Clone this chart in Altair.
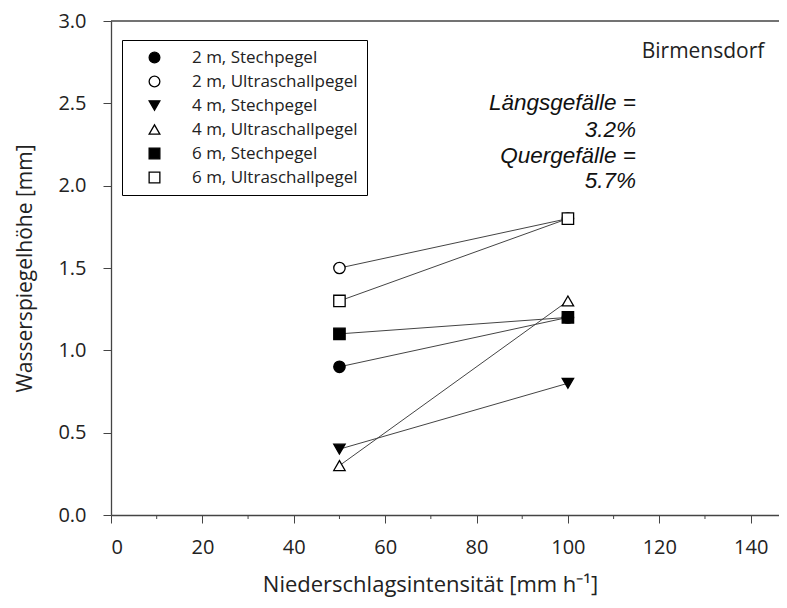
import altair as alt
import pandas as pd

# ---- data ----
series = ["2 m, Stechpegel", "2 m, Ultraschallpegel", "4 m, Stechpegel",
          "4 m, Ultraschallpegel", "6 m, Stechpegel", "6 m, Ultraschallpegel"]
x_vals = [50, 100]
y_2m_stech = [0.9, 1.2]
y_2m_ultra = [1.5, 1.8]
y_4m_stech = [0.4, 0.8]
y_4m_ultra = [0.3, 1.3]
y_6m_stech = [1.1, 1.2]
y_6m_ultra = [1.3, 1.8]
all_y = [y_2m_stech, y_2m_ultra, y_4m_stech, y_4m_ultra, y_6m_stech, y_6m_ultra]

shapes = ["circle", "circle", "triangle-down", "triangle-up", "square", "square"]
fills = ["black", "white", "black", "white", "black", "white"]
strokes = ["black"] * 6

x_major = [0, 20, 40, 60, 80, 100, 120, 140]
x_minor = [10, 30, 50, 70, 90, 110, 130]
y_ticks = [0.0, 0.5, 1.0, 1.5, 2.0, 2.5, 3.0]

site_label = "Birmensdorf"
slope_lines = ["Längsgefälle =", "3.2%", "Quergefälle =", "5.7%"]
slope_y = [2.50, 2.34, 2.18, 2.03]

rows = []
for s, ys in zip(series, all_y):
    for xv, yv in zip(x_vals, ys):
        rows.append({"serie": s, "x": xv, "y": yv})
df = pd.DataFrame(rows)

W, H = 668, 494
xscale = alt.Scale(domain=[0, 146.2], nice=False, zero=False)
yscale = alt.Scale(domain=[0, 3.0], nice=False)

FONT = "Open Sans"

xenc = alt.X("x:Q", scale=xscale, axis=alt.Axis(
    values=x_major, title="Niederschlagsintensität [mm h⁻¹]", grid=False,
    tickSize=8, labelPadding=14, labelFontSize=20, labelFont=FONT,
    labelColor="#222", domainColor="#444", tickColor="#444", domainWidth=1.3,
    titleFont=FONT, titleFontSize=22, titleFontWeight="normal", titleColor="#222",
    titleX=319, titleY=69, titleBaseline="middle", titleAlign="center"))
yenc = alt.Y("y:Q", scale=yscale, axis=alt.Axis(
    values=y_ticks, format=".1f", title="Wasserspiegelhöhe [mm]", grid=False,
    tickSize=8, labelPadding=17, labelFontSize=20, labelFont=FONT,
    labelColor="#222", domainColor="#444", tickColor="#444", domainWidth=1.3,
    titleFont=FONT, titleFontSize=21, titleFontWeight="normal", titleColor="#222",
    titleX=-86, titleY=H / 2, titleAngle=-90, titleBaseline="middle",
    titleAlign="center"))

base = alt.Chart(df)

lines = base.mark_line(color="#444", strokeWidth=1).encode(
    x=xenc, y=yenc, detail="serie:N")

points = base.mark_point(filled=True, size=130, strokeWidth=1.3,
                         opacity=1).encode(
    x=alt.X("x:Q", scale=xscale),
    y=alt.Y("y:Q", scale=yscale),
    shape=alt.Shape("serie:N", scale=alt.Scale(domain=series, range=shapes),
                    legend=alt.Legend(title=None)),
    fill=alt.Fill("serie:N", scale=alt.Scale(domain=series, range=fills),
                  legend=alt.Legend(title=None)),
    stroke=alt.Stroke("serie:N", scale=alt.Scale(domain=series, range=strokes),
                      legend=alt.Legend(title=None)),
)

minor = alt.Chart(pd.DataFrame({"x": x_minor})).mark_rule(
    color="#444", strokeWidth=1).encode(
    x=alt.X("x:Q", scale=xscale), y=alt.value(H), y2=alt.value(H + 4))

topline = alt.Chart(pd.DataFrame({"y": [3.0]})).mark_rule(
    color="#444", strokeWidth=1.3).encode(
    y=alt.Y("y:Q", scale=yscale), x=alt.value(0), x2=alt.value(W))

site = alt.Chart(pd.DataFrame({"x": [143.0], "y": [2.81], "t": [site_label]})).mark_text(
    align="right", baseline="middle", font=FONT, fontSize=21, color="#222").encode(
    x=alt.X("x:Q", scale=xscale), y=alt.Y("y:Q", scale=yscale), text="t:N")

slopes = alt.Chart(pd.DataFrame({"x": [114.9] * 4, "y": slope_y, "t": slope_lines})).mark_text(
    align="right", baseline="middle", font="Liberation Sans", fontStyle="italic",
    fontSize=22.5, color="#111").encode(
    x=alt.X("x:Q", scale=xscale), y=alt.Y("y:Q", scale=yscale), text="t:N")

chart = alt.layer(lines, minor, topline, points, site, slopes).properties(
    width=W, height=H,
    autosize=alt.AutoSizeParams(type="none"),
    padding={"left": 103, "top": 13, "right": 0, "bottom": 85},
).configure_view(stroke=None).configure_legend(
    orient="none", legendX=11, legendY=19, strokeColor="black",
    padding=9, symbolOffset=15, labelOffset=29, labelFont=FONT,
    labelFontSize=17, labelLimit=400, labelColor="#222", rowPadding=6,
    symbolSize=115, symbolStrokeWidth=1.3, fillColor="white",
    cornerRadius=0,
)

chart.save("out.html", embed_options={"renderer": "svg", "actions": False})
